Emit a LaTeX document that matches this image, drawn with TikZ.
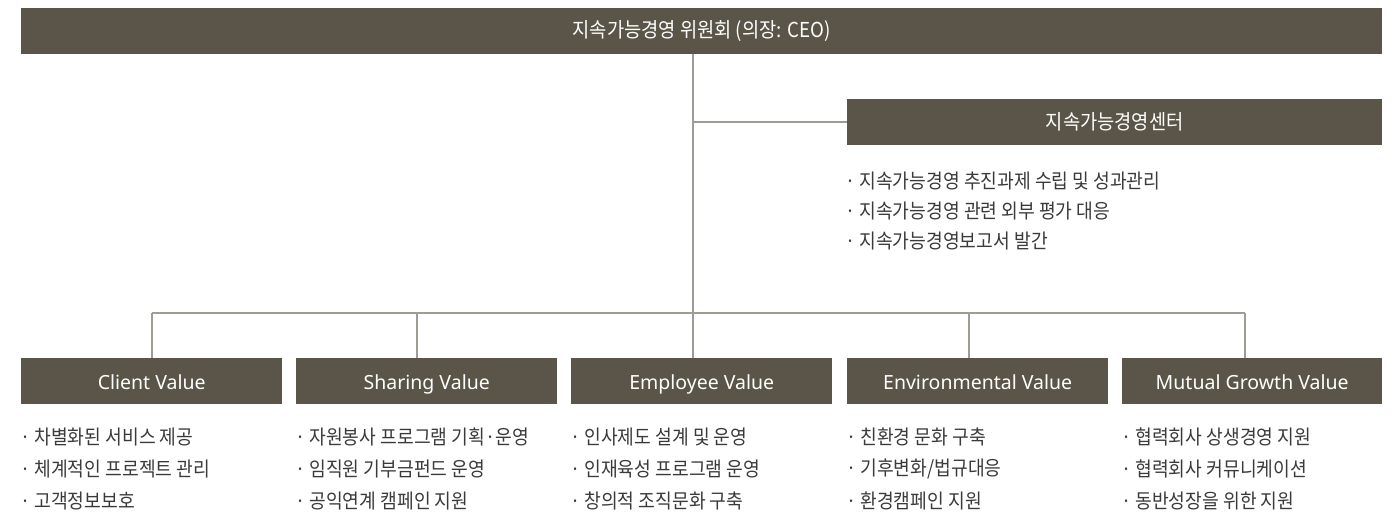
\documentclass[tikz,border=0pt]{standalone}
\usepackage{fontspec}
\setmainfont{Noto Sans CJK KR}
\newfontfamily\latinfont{Noto Sans}
\definecolor{boxc}{HTML}{5A5548}
\definecolor{linec}{HTML}{9E9C95}
\definecolor{txtc}{HTML}{3A3A3A}
\newcommand\kt[1]{\scalebox{1}[1.1]{#1}}
\begin{document}
\begin{tikzpicture}[x=1pt,y=-1pt,
  bar/.style={fill=boxc, text=white, inner sep=0pt, anchor=north west, minimum height=46pt, font=\fontsize{18.7}{22}\selectfont},
  vbox/.style={bar, minimum width=261pt, text height=17pt, text depth=1pt, font=\latinfont\fontsize{19.5}{23}\selectfont},
  conn/.style={draw=linec, line width=1.2pt},
  item/.style={anchor=west, text=txtc, inner sep=0pt, font=\fontsize{18.2}{21}\selectfont},
]
\useasboundingbox (0,0) rectangle (1395,517);

% boxes
\node[bar, minimum width=1361pt] (top) at (21,8) {\kt{지속가능경영 위원회 (의장: CEO)}};
\node[bar, minimum width=535pt] (center) at (847,99) {\kt{지속가능경영센터}};
\node[vbox] (client) at (21,358) {Client Value};
\node[vbox] (sharing) at (296,358) {Sharing Value};
\node[vbox] (employee) at (571,358) {Employee Value};
\node[vbox] (env) at (847,358) {Environmental Value};
\node[vbox, minimum width=260pt] (mutual) at (1122,358) {Mutual Growth Value};

% junction coordinates
\coordinate (t0) at (693,54);
\coordinate (jc) at (693,122);
\coordinate (jm) at (693,313);
\coordinate (h1) at (152,313);
\coordinate (h2) at (417,313);
\coordinate (h4) at (969,313);
\coordinate (h5) at (1245,313);

% connectors
\draw[conn] (t0) -- (jm);
\draw[conn] (jc) -- (center.west |- jc);
\draw[conn] (h1) -- (h5);
\draw[conn] (h1) -- (h1 |- client.north);
\draw[conn] (h2) -- (h2 |- sharing.north);
\draw[conn] (jm) -- (jm |- employee.north);
\draw[conn] (h4) -- (h4 |- env.north);
\draw[conn] (h5) -- (h5 |- mutual.north);

% center items
\node[item] (c1) at (845,181) {\kt{· 지속가능경영 추진과제 수립 및 성과관리}};
\node[item] (c2) at (845,211) {\kt{· 지속가능경영 관련 외부 평가 대응}};
\node[item] (c3) at (845,241) {\kt{· 지속가능경영보고서 발간}};

% bottom items
\node[item] (a1) at (20,437) {\kt{· 차별화된 서비스 제공}};
\node[item] (a2) at (20,469) {\kt{· 체계적인 프로젝트 관리}};
\node[item] (a3) at (20,501) {\kt{· 고객정보보호}};

\node[item] (b1) at (295,437) {\kt{· 자원봉사 프로그램 기획·운영}};
\node[item] (b2) at (295,469) {\kt{· 임직원 기부금펀드 운영}};
\node[item] (b3) at (295,501) {\kt{· 공익연계 캠페인 지원}};

\node[item] (e1) at (570,437) {\kt{· 인사제도 설계 및 운영}};
\node[item] (e2) at (570,469) {\kt{· 인재육성 프로그램 운영}};
\node[item] (e3) at (570,501) {\kt{· 창의적 조직문화 구축}};

\node[item] (v1) at (846,437) {\kt{· 친환경 문화 구축}};
\node[item] (v2) at (846,469) {\kt{· 기후변화/법규대응}};
\node[item] (v3) at (846,501) {\kt{· 환경캠페인 지원}};

\node[item] (m1) at (1121,437) {\kt{· 협력회사 상생경영 지원}};
\node[item] (m2) at (1121,469) {\kt{· 협력회사 커뮤니케이션}};
\node[item] (m3) at (1121,501) {\kt{· 동반성장을 위한 지원}};
\end{tikzpicture}
\end{document}
